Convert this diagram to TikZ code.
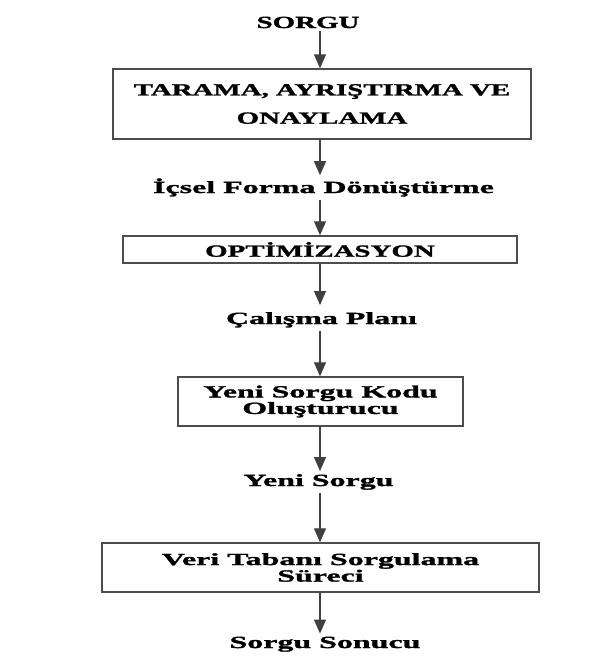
\documentclass[tikz,border=0pt]{standalone}
\usepackage{fontspec}
\usetikzlibrary{arrows.meta}
\setmainfont{Liberation Serif}
\newfontfamily\lowfont{Liberation Serif Bold}[FakeStretch=1.88, FakeBold=1.6]
\newfontfamily\capfont{Liberation Serif Bold}[FakeStretch=1.7, FakeBold=1.6]

\tikzset{
  stage/.style={draw=black!70, line width=1.4pt, align=center, inner sep=2pt,
    font=\capfont\fontsize{17}{14.5}\selectfont},
  lbl/.style={anchor=base, inner sep=3pt,
    font=\lowfont\fontsize{17}{14.5}\selectfont},
  flow/.style={draw=black!75, line width=1.2pt,
    -{Triangle[length=14pt,width=12pt]}}
}

\begin{document}
\begin{tikzpicture}[x=1pt,y=-1pt]
\useasboundingbox[fill=white] (0,0) rectangle (600,656);

% vertical axis shared by all connectors
\coordinate (ax) at (320,0);

% labels between the stages
\node[lbl, font=\capfont\fontsize{17}{14.5}\selectfont] (query) at (308,28) {SORGU};
\node[lbl] (internal) at (323.5,193) {İçsel Forma Dönüştürme};
\node[lbl] (plan) at (321.5,324) {Çalışma Planı};
\node[lbl] (newq) at (318.5,486) {Yeni Sorgu};
\node[lbl] (result) at (325,648) {Sorgu Sonucu};

% processing stages
\node[stage, minimum width=418pt, minimum height=70pt] (scan) at (322,104)
  {TARAMA, AYRIŞTIRMA VE\\[12.5pt]ONAYLAMA};
\node[stage, minimum width=394pt, minimum height=27pt] (opt) at (320,249.5)
  {OPTİMİZASYON};
\node[stage, font=\lowfont\fontsize{17}{14.5}\selectfont,
  minimum width=285pt, minimum height=49pt] (codegen) at (320.5,401.5)
  {Yeni Sorgu Kodu\\Oluşturucu};
\node[stage, font=\lowfont\fontsize{17}{14.5}\selectfont,
  minimum width=437pt, minimum height=49pt] (exec) at (320.5,567.5)
  {Veri Tabanı Sorgulama\\Süreci};

% connectors
\draw[flow] (query.south -| ax) -- (scan.north -| ax);
\draw[flow] (scan.south -| ax) -- (internal.north -| ax);
\draw[flow] (internal.south -| ax) -- (opt.north -| ax);
\draw[flow, shorten >=4pt] (opt.south -| ax) -- (plan.north -| ax);
\draw[flow] (plan.south -| ax) -- (codegen.north -| ax);
\draw[flow] (codegen.south -| ax) -- (newq.north -| ax);
\draw[flow] (newq.south -| ax) -- (exec.north -| ax);
\draw[flow] (exec.south -| ax) -- (result.north -| ax);
\end{tikzpicture}
\end{document}
